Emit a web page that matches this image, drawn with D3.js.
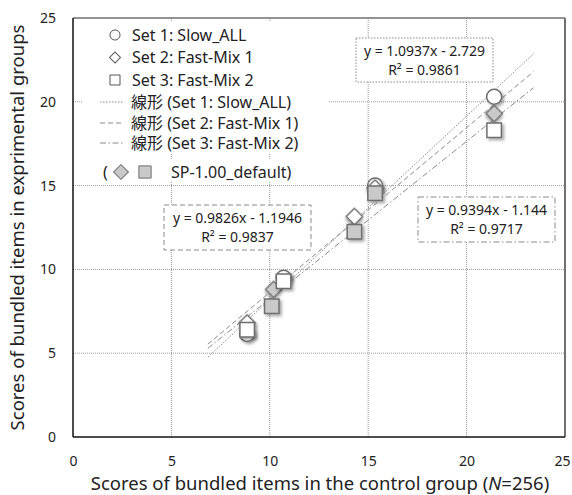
<!DOCTYPE html>
<html>
<head>
<meta charset="utf-8">
<script src="https://cdn.jsdelivr.net/npm/d3@7"></script>
<style>
  body { margin: 0; background: #fff; }
  text { font-family: "Noto Sans", "Noto Sans CJK JP", sans-serif; fill: #222; }
</style>
</head>
<body>
<div id="wrapper"></div>
<script>
// data
const set1X = [8.85, 10.7, 15.35, 21.4]
const set1Y = [6.15, 9.5, 15.0, 20.3]
const set1Gray = [false, false, false, false]
const set2X = [8.85, 10.2, 14.3, 15.35, 21.4]
const set2Y = [6.8, 8.8, 13.15, 14.85, 19.3]
const set2Gray = [false, true, false, false, true]
const set3X = [8.85, 10.1, 10.7, 14.3, 15.35, 21.4]
const set3Y = [6.4, 7.8, 9.3, 12.25, 14.55, 18.3]
const set3Gray = [false, true, false, true, true, false]
const setNames = ["Set 1: Slow_ALL", "Set 2: Fast-Mix 1", "Set 3: Fast-Mix 2"]
const slopes = [1.0937, 0.9826, 0.9394]
const intercepts = [-2.729, -1.1946, -1.144]
const rSquared = ["0.9861", "0.9837", "0.9717"]
const eqTexts = ["y = 1.0937x - 2.729", "y = 0.9826x - 1.1946", "y = 0.9394x - 1.144"]
const forecast = 2
const ticks = [0, 5, 10, 15, 20, 25]

function drawChart() {
  const dimensions = {
    width: 572,
    height: 495,
    margin: {top: 18, right: 7, bottom: 58, left: 73}
  }
  const svg = d3.select("#wrapper").append("svg")
      .attr("width", dimensions.width)
      .attr("height", dimensions.height)

  const x = d3.scaleLinear().domain([0, 25])
      .range([dimensions.margin.left, dimensions.width - dimensions.margin.right])
  const y = d3.scaleLinear().domain([0, 25])
      .range([dimensions.height - dimensions.margin.bottom, dimensions.margin.top])

  // shadow for markers
  const filter = svg.append("defs").append("filter")
      .attr("id", "shadow").attr("x", "-50%").attr("y", "-50%")
      .attr("width", "200%").attr("height", "200%")
  filter.append("feDropShadow")
      .attr("dx", 2).attr("dy", 2).attr("stdDeviation", 1.5)
      .attr("flood-color", "#000").attr("flood-opacity", 0.35)

  // gridlines
  const grid = svg.append("g").attr("stroke", "#9a9a9a").attr("stroke-dasharray", "1,1")
  grid.selectAll(".gx").data(ticks.slice(1, -1)).join("line")
      .attr("x1", d => x(d)).attr("x2", d => x(d))
      .attr("y1", y(0)).attr("y2", y(25))
  grid.selectAll(".gy").data(ticks.slice(1, -1)).join("line")
      .attr("y1", d => y(d)).attr("y2", d => y(d))
      .attr("x1", x(0)).attr("x2", x(25))

  // plot border
  svg.append("line").attr("x1", x(0)).attr("x2", x(25)).attr("y1", y(25)).attr("y2", y(25))
      .attr("stroke", "#707070").attr("stroke-width", 1.5)
  svg.append("line").attr("x1", x(25)).attr("x2", x(25)).attr("y1", y(0)).attr("y2", y(25))
      .attr("stroke", "#707070").attr("stroke-width", 2)
  svg.append("line").attr("x1", x(0)).attr("x2", x(0)).attr("y1", y(0)).attr("y2", y(25))
      .attr("stroke", "#111").attr("stroke-width", 1.5)
  svg.append("line").attr("x1", x(0)).attr("x2", x(25)).attr("y1", y(0)).attr("y2", y(0))
      .attr("stroke", "#111").attr("stroke-width", 1.5)

  // axes
  const xAxis = svg.append("g")
      .attr("transform", `translate(0,${y(0)})`)
      .call(d3.axisBottom(x).tickValues(ticks).tickSize(0).tickPadding(19))
  const yAxis = svg.append("g")
      .attr("transform", `translate(${x(0)},0)`)
      .call(d3.axisLeft(y).tickValues(ticks).tickSize(0).tickPadding(17))
  for (const ax of [xAxis, yAxis]) {
    ax.select(".domain").remove()
    ax.selectAll("text").style("font-size", "14px")
        .style("font-family", "Noto Sans, sans-serif").attr("fill", "#222")
  }
  // keep the last x label inside the window
  xAxis.selectAll(".tick text").filter(d => d === 25).attr("dx", -3)

  // axis titles
  const xTitle = svg.append("text")
      .attr("x", 320).attr("y", 490)
      .attr("text-anchor", "middle")
      .style("font-size", "18.5px")
  xTitle.append("tspan").text("Scores of bundled items in the control group (")
  xTitle.append("tspan").style("font-style", "italic").text("N")
  xTitle.append("tspan").text("=256)")
  svg.append("text")
      .attr("transform", `translate(24,${(y(0) + y(25)) / 2}) rotate(-90)`)
      .attr("text-anchor", "middle")
      .style("font-size", "18.5px")
      .text("Scores of bundled items in exprimental groups")

  // trend lines
  const sets = [
    {xs: set1X, ys: set1Y, gray: set1Gray},
    {xs: set2X, ys: set2Y, gray: set2Gray},
    {xs: set3X, ys: set3Y, gray: set3Gray}
  ]
  const dashes = ["1.5,1.5", "5,3", "6,2.5,1.5,2.5"]
  sets.forEach((s, i) => {
    const x0 = d3.min(s.xs) - forecast
    const x1 = d3.max(s.xs) + forecast
    svg.append("line")
        .attr("x1", x(x0)).attr("y1", y(slopes[i] * x0 + intercepts[i]))
        .attr("x2", x(x1)).attr("y2", y(slopes[i] * x1 + intercepts[i]))
        .attr("stroke", "#8a8a8a").attr("stroke-width", 1)
        .attr("stroke-dasharray", dashes[i])
  })

  // markers
  const shapes = [
    d3.symbol().type(d3.symbolCircle).size(177),
    d3.symbol().type(d3.symbolSquare).size(135),
    d3.symbol().type(d3.symbolSquare).size(210)
  ]
  const rotations = [0, 45, 0]
  sets.forEach((s, i) => {
    const pts = s.xs.map((v, j) => ({x: v, y: s.ys[j], gray: s.gray[j]}))
    svg.append("g").attr("class", "set" + (i + 1))
        .selectAll("path").data(pts).join("path")
        .attr("d", shapes[i])
        .attr("transform", d => `translate(${x(d.x)},${y(d.y)}) rotate(${rotations[i]})`)
        .attr("fill", d => d.gray ? "#c9c9c9" : "#fff")
        .attr("stroke", "#6e6e6e").attr("stroke-width", 1.5)
        .attr("filter", "url(#shadow)")
  })

  // legend
  const legend = svg.append("g")
  legend.append("rect").attr("x", 82).attr("y", 22).attr("width", 246).attr("height", 131).attr("fill", "#fff")
  legend.append("rect").attr("x", 98).attr("y", 160).attr("width", 205).attr("height", 22).attr("fill", "#fff")
  const rowY = [35, 57.5, 80, 102, 123, 143]
  const legShapes = [
    d3.symbol().type(d3.symbolCircle).size(80),
    d3.symbol().type(d3.symbolSquare).size(60),
    d3.symbol().type(d3.symbolSquare).size(100)
  ]
  setNames.forEach((name, i) => {
    legend.append("path").attr("d", legShapes[i])
        .attr("transform", `translate(115,${rowY[i]}) rotate(${rotations[i]})`)
        .attr("fill", "#fff").attr("stroke", "#555").attr("stroke-width", 1)
    legend.append("text").attr("x", 132).attr("y", rowY[i]).attr("dy", "0.35em")
        .style("font-size", "16px").text(name)
    legend.append("line").attr("x1", 100).attr("x2", 124)
        .attr("y1", rowY[i + 3]).attr("y2", rowY[i + 3])
        .attr("stroke", "#8a8a8a").attr("stroke-dasharray", dashes[i])
    legend.append("text").attr("x", 131).attr("y", rowY[i + 3]).attr("dy", "0.35em")
        .style("font-size", "16px").text("線形 (" + name + ")")
  })
  legend.append("text").attr("x", 103).attr("y", 172).attr("dy", "0.35em")
      .style("font-size", "16px").text("(")
  legend.append("path").attr("d", d3.symbol().type(d3.symbolSquare).size(110))
      .attr("transform", "translate(121,172) rotate(45)")
      .attr("fill", "#c9c9c9").attr("stroke", "#6e6e6e").attr("stroke-width", 1)
  legend.append("path").attr("d", d3.symbol().type(d3.symbolSquare).size(150))
      .attr("transform", "translate(145,172)")
      .attr("fill", "#c9c9c9").attr("stroke", "#6e6e6e").attr("stroke-width", 1)
  legend.append("text").attr("x", 171).attr("y", 172).attr("dy", "0.35em")
      .style("font-size", "16px").text("SP-1.00_default)")

  // equation labels
  const boxes = [
    {x0: 356, y0: 38, w: 137, h: 44},
    {x0: 164, y0: 205, w: 147, h: 45},
    {x0: 418, y0: 197, w: 137, h: 45}
  ]
  boxes.forEach((b, i) => {
    const g = svg.append("g")
    g.append("rect").attr("x", b.x0).attr("y", b.y0).attr("width", b.w).attr("height", b.h)
        .attr("fill", "#fff").attr("stroke", "#8a8a8a").attr("stroke-width", 1)
        .attr("stroke-dasharray", dashes[i])
    g.append("text").attr("x", b.x0 + b.w / 2).attr("y", b.y0 + 13).attr("dy", "0.35em")
        .attr("text-anchor", "middle").style("font-size", "14px").text(eqTexts[i])
    g.append("text").attr("x", b.x0 + b.w / 2).attr("y", b.y0 + 32).attr("dy", "0.35em")
        .attr("text-anchor", "middle").style("font-size", "14px").text("R² = " + rSquared[i])
  })
}
drawChart()
</script>
</body>
</html>
